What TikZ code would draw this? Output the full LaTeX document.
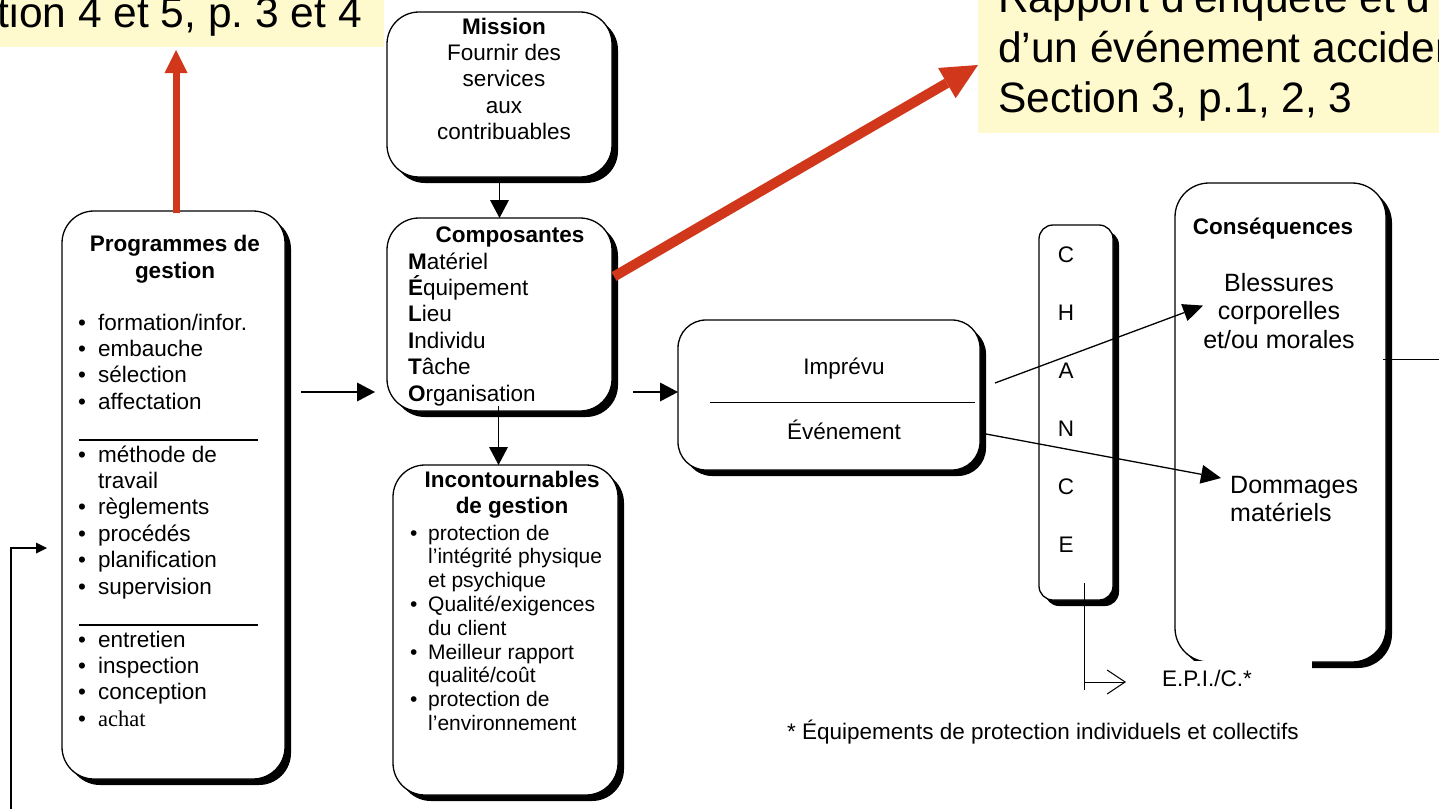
\documentclass[tikz,border=0pt]{standalone}
\usepackage{fontspec}
\setmainfont{Liberation Sans}
\newfontfamily\timesfont{Liberation Serif}
\usetikzlibrary{arrows.meta,shadows,positioning}
\frenchspacing

\definecolor{notered}{RGB}{208,55,27}
\definecolor{noteyellow}{RGB}{255,250,205}

\newcommand{\puce}{\makebox[20pt][l]{\textbullet}}
\newcommand{\pucei}{\makebox[18pt][l]{\textbullet}}

\begin{document}
\begin{tikzpicture}[x=1pt,y=-1pt,
    blk/.style={draw,line width=1.3pt,fill=white,rounded corners=32pt,inner sep=0pt,outer sep=0pt,
      drop shadow={shadow xshift=6pt,shadow yshift=-6pt,opacity=1,fill=black}},
    txt/.style={inner sep=0pt,font=\fontsize{22.5}{26.4}\selectfont},
    hd/.style={txt,font=\fontsize{22.5}{26.4}\selectfont\bfseries},
    liste/.style={txt,align=left,anchor=base west},
    note/.style={fill=noteyellow,inner sep=0pt,outer sep=0pt},
    notetxt/.style={inner sep=0pt,font=\fontsize{42.5}{50}\selectfont},
    flow/.style={line width=1.3pt,-{Triangle[length=18pt,width=19pt,line width=0pt]}},
    redflow/.style={notered,-{Triangle[length=#1,width=#1,line width=0pt]}}]
  \useasboundingbox (0,0) rectangle (1439,808);
  \clip (0,0) rectangle (1439,808);

  % notes en haut (base = derniere ligne)
  \node (refA) [note,anchor=south east,minimum width=430pt,minimum height=100pt] at (384,47) {};
  \node (refAtxt) [notetxt,anchor=base east] at (362,28) {tion 4 et 5, p. 3 et 4};
  \node (refB) [note,anchor=north west,minimum width=500pt,minimum height=160pt] at (978,-27) {};
  \node (refBtxt) [notetxt,align=left,anchor=base west] at (998,112)
    {Rapport d’enquête et d’\\d’un événement accident\\Section 3, p.1, 2, 3};

  % boites
  \node (prog) [blk,minimum width=223pt,minimum height=568pt] at (173.5,495) {};
  \node (mission) [blk,minimum width=225pt,minimum height=165pt] at (499.5,94.5) {};
  \node (comp) [blk,minimum width=225pt,minimum height=193pt] at (499.5,314.5) {};
  \node (incont) [blk,minimum width=225pt,minimum height=330pt] at (505.5,630) {};
  \node (evt) [blk,rounded corners=28pt,minimum width=302pt,minimum height=150pt] at (829,395) {};
  \node (chance) [blk,rounded corners=14pt,minimum width=74pt,minimum height=375pt] at (1076,412.5) {};
  \node (cons) [blk,rounded corners=34pt,minimum width=211pt,minimum height=479pt] at (1280.5,422.5) {};

  % programmes de gestion
  \node (progT) [hd,align=center,anchor=base] at (175,278) {Programmes de\\gestion};
  \node (progA) [liste] at (78,409.2) {\puce formation/infor.\\ \puce embauche\\ \puce sélection\\ \puce affectation};
  \draw[line width=1.3pt] (79,440) -- (258,440);
  \node (progB) [liste] at (78,594) {\puce méthode de\\ \hspace*{20pt}travail\\ \puce règlements\\
    \puce procédés\\ \puce planification\\ \puce supervision};
  \draw[line width=1.3pt] (79,625) -- (258,625);
  \node (progC) [liste] at (78,726.2) {\puce entretien\\ \puce inspection\\ \puce conception\\ \puce {\timesfont achat}};

  % mission, composantes, incontournables
  \node (missionT) [txt,align=center,anchor=base] at (504,139.6)
    {\textbf{Mission}\\Fournir des\\services\\aux\\contribuables};
  \node (compT) [hd,anchor=base] at (510,242) {Composantes};
  \node (compL) [liste] at (408,401) {\textbf{M}atériel\\ \textbf{É}quipement\\ \textbf{L}ieu\\
    \textbf{I}ndividu\\ \textbf{T}âche\\ \textbf{O}rganisation};
  \node (incontT) [hd,align=center,anchor=base] at (512,513.4) {Incontournables\\de gestion};
  \node (incontL) [liste,font=\fontsize{21}{23.8}\selectfont] at (410,730.4)
    {\pucei protection de\\ \hspace*{18pt}l’intégrité physique\\ \hspace*{18pt}et psychique\\
     \pucei Qualité/exigences\\ \hspace*{18pt}du client\\ \pucei Meilleur rapport\\
     \hspace*{18pt}qualité/coût\\ \pucei protection de\\ \hspace*{18pt}l’environnement};

  % imprevu / evenement
  \node (imprevu) [txt,anchor=base] at (844,374) {Imprévu};
  \node (evenement) [txt,anchor=base] at (844,439) {Événement};
  \draw[line width=1pt] ([shift={(32,7)}]evt.west) -- ([shift={(-5,7)}]evt.east);

  % chance et consequences
  \node (chanceT) [txt,align=center,anchor=base,font=\fontsize{22.5}{58}\selectfont] at (1066,552)
    {C\\H\\A\\N\\C\\E};
  \node (consT) [hd,anchor=base] at (1273,234) {Conséquences};
  \node (bless) [txt,align=center,anchor=base,font=\fontsize{25}{28.5}\selectfont] at (1279,348)
    {Blessures\\corporelles\\et/ou morales};
  \node (domm) [txt,align=left,anchor=base west,font=\fontsize{25}{28.5}\selectfont] at (1230,521.5)
    {Dommages\\matériels};
  \node (epic) [txt,fill=white,align=left,anchor=base west,text width=150pt,inner ysep=9pt] at (1162,686)
    {E.P.I./C.*};
  \node (foot) [txt,anchor=base west] at (787,739) {* Équipements de protection individuels et collectifs};

  % fleches
  \draw[redflow=23pt,line width=7pt] ([shift={(2.5,2)}]prog.north) -- ([shift={(7,3)}]refA.south);
  \draw[notered,line width=10pt,-{Triangle[length=36pt,width=35pt,line width=0pt]}]
    ([shift={(2,-38)}]comp.east) -- ([shift={(0,12)}]refB.west);
  \draw[flow] (mission.south) -- (comp.north);
  \draw[flow] ([shift={(-1,-5)}]comp.south) -- ++(0,59);
  \draw[flow] ([shift={(16,-103)}]prog.east) -- ([shift={(-12,77.5)}]comp.west);
  \draw[flow] ([shift={(21,77.5)}]comp.east) -- ++(45,0);
  \draw[line width=1.3pt,-{Triangle[length=20pt,width=18pt,line width=0pt]}]
    ([shift={(15,-12)}]evt.east) -- ([shift={(0,-5)}]bless.west);
  \coordinate (dommIn) at (1221,478);
  \draw[line width=1.3pt,-{Triangle[length=20pt,width=19pt,line width=0pt]}]
    ([shift={(6,39)}]evt.east) -- (dommIn);
  \draw[line width=1pt] ([shift={(-3,-63)}]cons.east) -- ++(70,0);
  \coordinate (retour) at (11,815);
  \draw[line width=1.3pt,-{Triangle[length=11pt,width=11pt,line width=0pt]}]
    (retour) |- ([shift={(-15,53)}]prog.west);
  \draw[line width=1pt] ([shift={(8,-17)}]chance.south) coordinate (epiTop) -- ++(0,107);
  \draw[line width=1pt,-{Straight Barb[length=18pt,width=24pt]}] ([yshift=-99pt]epiTop) -- ++(42,0);
\end{tikzpicture}
\end{document}
